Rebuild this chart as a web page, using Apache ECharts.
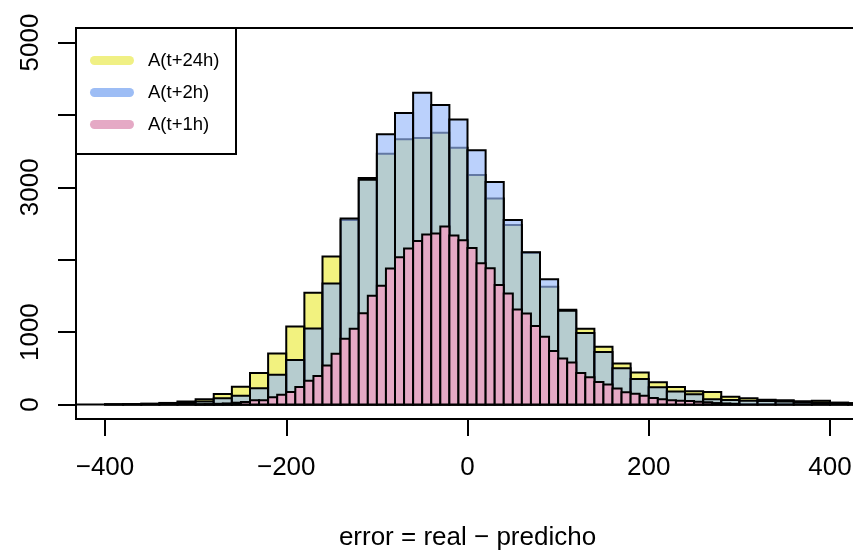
<!DOCTYPE html>
<html>
<head>
<meta charset="utf-8">
<title>error = real − predicho</title>
<script src="https://cdn.jsdelivr.net/npm/echarts@6/dist/echarts.min.js"></script>
<style>
  html, body { margin: 0; padding: 0; background: #fff; }
  #chart { width: 853px; height: 550px; }
</style>
</head>
<body>
<div id="chart"></div>
<script>
// bins: 20 wide for 24h / 2h, 10 wide for 1h
const wideStart = -400
const wideWidth = 20
const narrowStart = -300
const narrowWidth = 10

// A(t+24h), bins from -400 to 440
const counts24h = [
  3, 6, 12, 22, 40, 72, 145, 246, 434, 706,
  1078, 1543, 2044, 2548, 3130, 3465, 3662, 3680, 3754, 3547,
  3170, 2844, 2480, 2095, 1625, 1310, 1046, 797, 566, 442,
  306, 241, 182, 172, 108, 85, 66, 58, 44, 52,
  27, 20
]
// A(t+2h), same bins
const counts2h = [
  2, 4, 8, 14, 26, 42, 88, 122, 223, 411,
  614, 1051, 1671, 2570, 3105, 3731, 4025, 4306, 4135, 3938,
  3510, 3073, 2547, 2103, 1731, 1295, 986, 726, 501, 352,
  238, 180, 141, 72, 62, 52, 48, 40, 30, 28,
  15, 12
]
// A(t+1h), bins from -300 to 300
const counts1h = [
  4, 6, 10, 15, 25, 34, 58, 58, 99, 136,
  172, 241, 329, 393, 540, 701, 910, 1048, 1260, 1501,
  1639, 1878, 2034, 2154, 2260, 2347, 2361, 2458, 2333, 2269,
  2163, 1952, 1883, 1650, 1533, 1313, 1258, 1083, 936, 738,
  637, 582, 434, 375, 310, 276, 220, 170, 150, 120,
  90, 73, 60, 53, 48, 37, 30, 20, 15, 10
]

const seriesNames = ['A(t+24h)', 'A(t+2h)', 'A(t+1h)']
const xTicks = [-400, -200, 0, 200, 400]
const yTicks = [0, 1000, 2000, 3000, 4000, 5000]
const yLabels = [0, 1000, 3000, 5000]

const font = '"Liberation Sans", Arial, Helvetica, sans-serif'

function toBins(start, width, counts) {
  return counts.map((c, i) => [start + i * width, start + (i + 1) * width, c])
}

// one rect per bin, from the bin edges and the count
function histRender(fill) {
  return function (params, api) {
    const p0 = api.coord([api.value(0), api.value(2)])
    const p1 = api.coord([api.value(1), 0])
    return {
      type: 'rect',
      shape: { x: p0[0], y: p0[1], width: p1[0] - p0[0], height: p1[1] - p0[1] },
      style: { fill: fill, stroke: '#000', lineWidth: 2 }
    }
  }
}

// zero line across the whole plot
function baselineRender(params, api) {
  const cs = params.coordSys
  const y = api.coord([0, api.value(0)])[1]
  return {
    type: 'line',
    shape: { x1: cs.x, y1: y, x2: cs.x + cs.width, y2: y },
    style: { stroke: '#000', lineWidth: 2 }
  }
}

const chart = echarts.init(document.getElementById('chart'))

chart.setOption({
  animation: false,
  grid: {
    left: 76,
    top: 28,
    right: -6,
    bottom: 131,
    outerBoundsMode: 'none',
    containLabel: false,
    show: true,
    borderColor: '#000',
    borderWidth: 2,
    backgroundColor: 'transparent'
  },
  legend: {
    orient: 'vertical',
    left: 90,
    top: 51,
    padding: 0,
    itemWidth: 44,
    itemHeight: 9,
    itemGap: 13,
    selectedMode: false,
    icon: 'path://M4.5,0 H39.5 A4.5,4.5 0 0 1 39.5,9 H4.5 A4.5,4.5 0 0 1 4.5,0 Z',
    textStyle: {
      fontFamily: font,
      fontSize: 18.5,
      lineHeight: 18,
      color: '#000',
      padding: [0, 0, 0, 9]
    },
    data: seriesNames
  },
  graphic: [{
    type: 'rect',
    shape: { x: 76, y: 28, width: 160, height: 126 },
    style: { fill: 'none', stroke: '#000', lineWidth: 2 },
    z: 100
  }],
  xAxis: {
    type: 'value',
    min: -432,
    max: 432,
    axisLine: { show: false, onZero: false },
    splitLine: { show: false },
    axisTick: {
      length: 17,
      customValues: xTicks,
      lineStyle: { color: '#000', width: 2 }
    },
    axisLabel: {
      customValues: xTicks,
      margin: 36,
      fontFamily: font,
      fontSize: 26,
      color: '#000',
      formatter: v => String(v).replace('-', '\u2212')
    },
    name: 'error = real \u2212 predicho',
    nameLocation: 'middle',
    nameGap: 106,
    nameTextStyle: { fontFamily: font, fontSize: 26, color: '#000' }
  },
  yAxis: {
    type: 'value',
    min: -200,
    max: 5200,
    axisLine: { show: false, onZero: false },
    splitLine: { show: false },
    axisTick: {
      length: 18,
      customValues: yTicks,
      lineStyle: { color: '#000', width: 2 }
    },
    axisLabel: {
      customValues: yLabels,
      rotate: 90,
      margin: 32,
      fontFamily: font,
      fontSize: 26,
      color: '#000',
      formatter: v => String(v)
    }
  },
  series: [{
    name: 'baseline',
    type: 'custom',
    silent: true,
    renderItem: baselineRender,
    encode: { y: 0 },
    data: [[0]]
  }, {
    name: seriesNames[0],
    type: 'custom',
    clip: true,
    itemStyle: { color: '#f0f084' },
    renderItem: histRender('rgba(230, 230, 0, 0.5)'),
    encode: { x: [0, 1], y: 2 },
    data: toBins(wideStart, wideWidth, counts24h)
  }, {
    name: seriesNames[1],
    type: 'custom',
    clip: true,
    itemStyle: { color: '#9dbdf5' },
    renderItem: histRender('rgba(150, 185, 250, 0.65)'),
    encode: { x: [0, 1], y: 2 },
    data: toBins(wideStart, wideWidth, counts2h)
  }, {
    name: seriesNames[2],
    type: 'custom',
    clip: true,
    itemStyle: { color: '#e5a9c5' },
    renderItem: histRender('#e5a9c5'),
    encode: { x: [0, 1], y: 2 },
    data: toBins(narrowStart, narrowWidth, counts1h)
  }]
})
</script>
</body>
</html>
